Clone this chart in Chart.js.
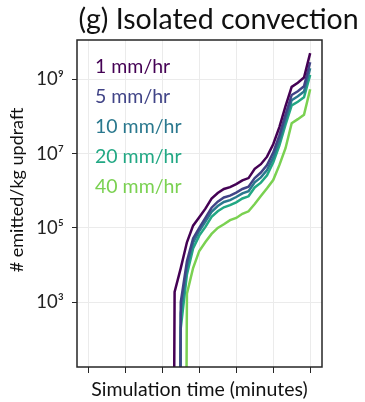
<!DOCTYPE html>
<html>
<head>
<meta charset="utf-8">
<script src="https://cdn.jsdelivr.net/npm/chart.js@4.4.1/dist/chart.umd.min.js"></script>
<style>
  html,body{margin:0;padding:0;background:#fff;}
  #wrap{width:365px;height:402px;position:relative;}
</style>
</head>
<body>
<div id="wrap"><canvas id="c" width="365" height="402"></canvas></div>
<script>
// ---- data ----
const timeMinutes = [65,70,75,80,85,90,95,100,105,110,115,120,125,130,135,140,145,150,155,160,165,170,175,180];
const TINY = 1e-30; // zero emission before onset (drawn as a drop off the log axis)
const seriesLabels = ['1 mm/hr','5 mm/hr','10 mm/hr','20 mm/hr','40 mm/hr'];
const seriesColors = ['#440154','#414487','#2a788e','#22a884','#7ad151'];
const rate1  = [TINY,1.9e3,8.3e3,4.1e4,1.15e5,1.95e5,3.3e5,6.2e5,8.7e5,1.12e6,1.26e6,1.51e6,1.9e6,2.2e6,3.9e6,5.2e6,8.3e6,1.8e7,5.2e7,1.9e8,6.3e8,8.1e8,1.12e9,5.1e9];
const rate5  = [null,TINY,1.0e3,1.26e4,5.2e4,1.0e5,1.86e5,3.5e5,5.1e5,6.6e5,7.4e5,8.9e5,1.12e6,1.29e6,2.2e6,3.1e6,4.9e6,1.07e7,3.1e7,1.12e8,3.8e8,4.8e8,6.5e8,2.9e9];
const rate10 = [null,TINY,5.0e2,8.9e3,4.0e4,8.3e4,1.48e5,2.7e5,3.9e5,5.0e5,5.6e5,6.8e5,8.5e5,9.8e5,1.7e6,2.3e6,3.6e6,7.8e6,2.2e7,8.1e7,2.75e8,3.5e8,4.7e8,2.0e9];
const rate20 = [null,TINY,2.0e2,5.6e3,2.8e4,6.2e4,1.07e5,2.0e5,2.8e5,3.6e5,4.1e5,4.9e5,6.2e5,7.1e5,1.23e6,1.66e6,2.6e6,5.8e6,1.66e7,6.0e7,2.0e8,2.5e8,3.3e8,1.32e9];
const rate40 = [null,null,TINY,1.7e3,8.3e3,2.4e4,4.2e4,6.9e4,1.0e5,1.26e5,1.62e5,1.86e5,2.4e5,2.8e5,4.4e5,7.2e5,1.17e6,1.95e6,4.9e6,1.4e7,6.6e7,8.5e7,1.12e8,5.4e8];
const allSeries = [rate1, rate5, rate10, rate20, rate40];
const xTicks = [0,30,60,90,120,150,180];
const yTicks = [1e3,1e5,1e7,1e9];
const yTickLabels = ['10\u00B3','10\u2075','10\u2077','10\u2079'];
const titleText = '(g) Isolated convection';
const yTitleText = '# emitted/kg updraft';
const xTitleText = 'Simulation time (minutes)';

const FONT = 'Lato';

const datasets = allSeries.map((vals, i) => ({
  label: seriesLabels[i],
  data: timeMinutes.map((t, j) => ({x: t, y: vals[j]})),
  borderColor: seriesColors[i],
  backgroundColor: seriesColors[i],
  borderWidth: 2.5,
  pointRadius: 0,
  tension: 0,
  spanGaps: false
}));

const textPlugin = {
  id: 'texts',
  afterDraw(chart) {
    const {ctx, chartArea: a} = chart;
    ctx.save();
    ctx.strokeStyle = '#262626';
    ctx.lineWidth = 1.5;
    ctx.strokeRect(a.left, a.top, a.right - a.left, a.bottom - a.top);
    // legend (text only, coloured like its line)
    ctx.font = '19.5px ' + FONT;
    ctx.textAlign = 'left';
    ctx.textBaseline = 'alphabetic';
    chart.data.datasets.forEach((ds, i) => {
      ctx.fillStyle = ds.borderColor;
      ctx.fillText(ds.label, a.left + 18, a.top + 33 + i * 30);
    });
    // title
    ctx.fillStyle = '#111';
    ctx.font = '28.5px ' + FONT;
    ctx.textAlign = 'center';
    ctx.fillText(titleText, 218.5, 29);
    // y title
    ctx.font = '18px ' + FONT;
    ctx.translate(23, 190);
    ctx.rotate(-Math.PI / 2);
    ctx.textAlign = 'center';
    ctx.fillText(yTitleText, 0, 0);
    ctx.restore();
  }
};

new Chart(document.getElementById('c'), {
  type: 'line',
  data: { datasets },
  plugins: [textPlugin],
  options: {
    responsive: false,
    animation: false,
    layout: { padding: { top: 40, right: 43, left: 0, bottom: 0 } },
    plugins: { legend: { display: false }, title: { display: false }, tooltip: { enabled: false } },
    scales: {
      x: {
        type: 'linear',
        min: -9.2,
        max: 189.6,
        afterBuildTicks: s => { s.ticks = xTicks.map(v => ({value: v})); },
        afterFit: s => { s.height = 35; },
        ticks: { callback: () => '', padding: 0 },
        grid: { color: '#ebebeb', lineWidth: 1, tickColor: '#262626', tickLength: 6, drawTicks: true },
        border: { display: false },
        title: { display: true, text: xTitleText, color: '#111', font: { family: FONT, size: 19.5 }, padding: { top: 0, bottom: 1 } }
      },
      y: {
        type: 'logarithmic',
        min: 18,
        max: 1.15e10,
        afterBuildTicks: s => { s.ticks = yTicks.map(v => ({value: v})); },
        afterFit: s => { s.width = 77; },
        ticks: {
          callback: (v) => { const k = yTicks.indexOf(v); return k >= 0 ? yTickLabels[k] : ''; },
          color: '#222', font: { family: FONT, size: 18.5 }, padding: 8
        },
        grid: { color: '#ebebeb', lineWidth: 1, tickColor: '#262626', tickLength: 5, drawTicks: true },
        border: { display: false }
      }
    }
  }
});
</script>
</body>
</html>
